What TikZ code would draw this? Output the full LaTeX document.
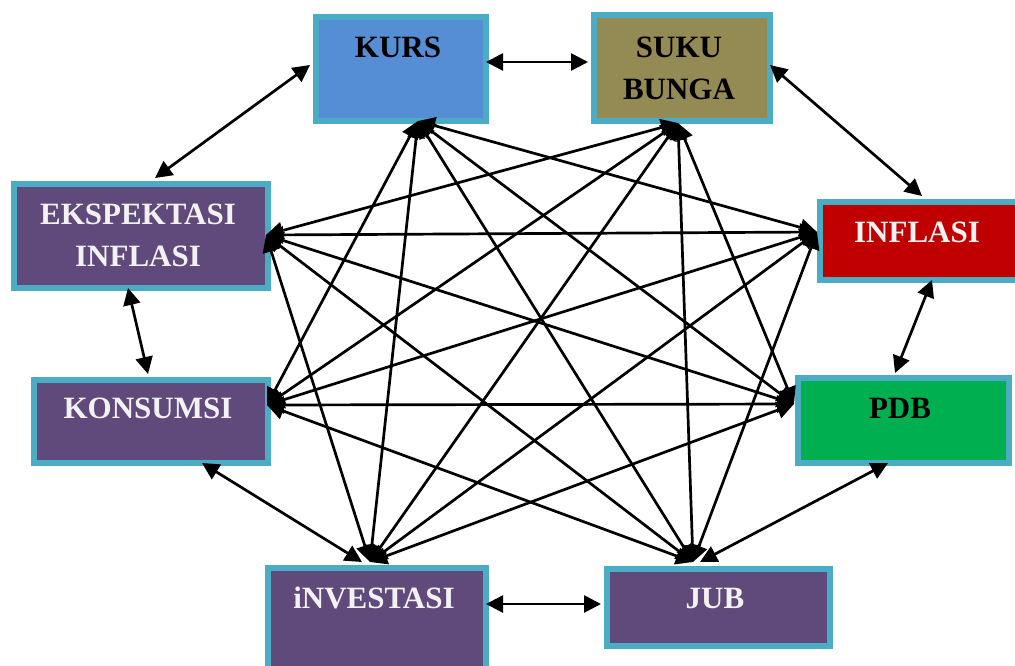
\documentclass[tikz,border=0pt]{standalone}
\usepackage{fontspec}
\setmainfont{Liberation Serif}
\usetikzlibrary{arrows.meta}
\definecolor{bord}{HTML}{4BACC6}
\definecolor{kursc}{HTML}{558ED5}
\definecolor{sukuc}{HTML}{948A54}
\definecolor{purp}{HTML}{604A7B}
\definecolor{inflc}{HTML}{C00000}
\definecolor{pdbc}{HTML}{00B050}
\definecolor{wtxt}{HTML}{F2F2F2}
\begin{document}
\begin{tikzpicture}[x=1pt,y=-1pt,
  box/.style={draw=bord, line width=6pt, inner sep=0pt, anchor=north west},
  lab/.style={font=\fontsize{31}{42}\selectfont\bfseries, align=center, inner sep=0pt},
  conn/.style={line width=2.7pt, {Triangle[length=17pt,width=17pt]}-{Triangle[length=17pt,width=17pt]}},
]
\useasboundingbox (0,0) rectangle (1015,665);
\clip (0,0) rectangle (1015,665);
% boxes
\node[box, fill=kursc, minimum width=170pt, minimum height=104pt] (kurs) at (313,14) {};
\node[box, fill=sukuc, minimum width=176pt, minimum height=106pt] (suku) at (591,12) {};
\node[box, fill=purp, minimum width=254pt, minimum height=104pt] (eksp) at (11,181) {};
\node[box, fill=purp, minimum width=234pt, minimum height=83pt] (kons) at (31,377) {};
\node[box, fill=inflc, minimum width=200pt, minimum height=78pt] (infl) at (817,199) {};
\node[box, fill=pdbc, minimum width=211pt, minimum height=85pt] (pdb) at (795,375) {};
\node[box, fill=purp, minimum width=218pt, minimum height=120pt] (inv) at (265,565) {};
\node[box, fill=purp, minimum width=223pt, minimum height=77pt] (jub) at (604,566) {};
% labels
\node[lab] (tkurs) at (398,47) {KURS};
\node[lab] (tsuku) at (679,68) {SUKU\\BUNGA};
\node[lab, text=wtxt] (teksp) at (138,235) {EKSPEKTASI\\INFLASI};
\node[lab, text=wtxt] (tkons) at (148,408) {KONSUMSI};
\node[lab, text=wtxt] (tinfl) at (917,232) {INFLASI};
\node[lab] (tpdb) at (900,408) {PDB};
\node[lab, text=wtxt] (tinv) at (374,598) {iNVESTASI};
\node[lab, text=wtxt] (tjub) at (715,598) {JUB};
% hubs
\coordinate (hK) at (418,121);
\coordinate (hS) at (678,123);
\coordinate (hI) at (817,232);
\coordinate (hP) at (794,404);
\coordinate (hJ) at (693,562);
\coordinate (hV) at (370,562);
\coordinate (hC) at (267,405);
\coordinate (hE) at (266,235);
% perimeter end points
\coordinate (kS) at (486,62);  \coordinate (sK) at (588,62);
\coordinate (kE) at (310,65);  \coordinate (eK) at (155,178);
\coordinate (sI) at (770,65);  \coordinate (iS) at (922,196);
\coordinate (eC) at (128,288); \coordinate (cE) at (148,374);
\coordinate (iP) at (932,280); \coordinate (pI) at (895,373);
\coordinate (cV) at (202,463); \coordinate (vC) at (362,562);
\coordinate (pJ) at (888,463); \coordinate (jP) at (700,562);
\coordinate (vJ) at (486,604); \coordinate (jV) at (601,604);
% perimeter connectors
\draw[conn] (kS) -- (sK);
\draw[conn] (kE) -- (eK);
\draw[conn] (sI) -- (iS);
\draw[conn] (eC) -- (cE);
\draw[conn] (iP) -- (pI);
\draw[conn] (cV) -- (vC);
\draw[conn] (pJ) -- (jP);
\draw[conn] (vJ) -- (jV);
% diagonals
\foreach \a/\b in {hK/hI,hK/hP,hK/hJ,hK/hV,hK/hC,
                   hS/hP,hS/hJ,hS/hV,hS/hC,hS/hE,
                   hI/hJ,hI/hV,hI/hC,hI/hE,
                   hP/hV,hP/hC,hP/hE,
                   hJ/hC,hJ/hE,
                   hV/hE}
  \draw[conn] (\a) -- (\b);
\end{tikzpicture}
\end{document}
